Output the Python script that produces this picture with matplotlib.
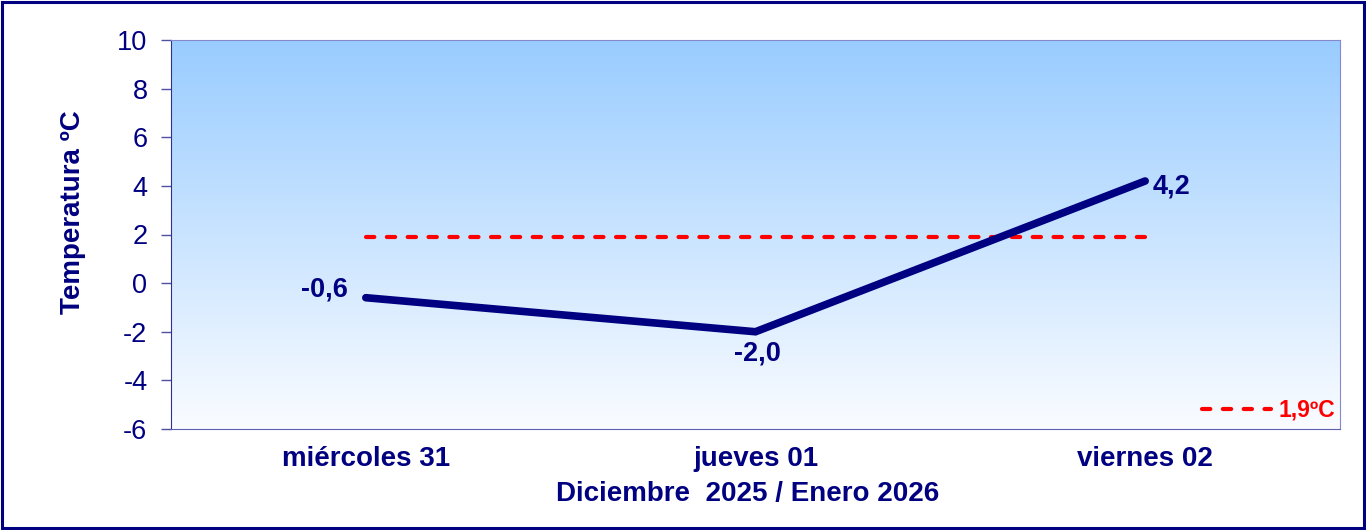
import numpy as np
import matplotlib.pyplot as plt
from matplotlib.patches import Rectangle

plt.rcParams['font.family'] = ['Liberation Sans', 'DejaVu Sans']

days = ["miércoles 31", "jueves 01", "viernes 02"]
temps = [-0.6, -2.0, 4.2]
temp_labels = ["-0,6", "-2,0", "4,2"]
avg_temp = 1.9
avg_label = "1,9ºC"
yticks = [-6, -4, -2, 0, 2, 4, 6, 8, 10]

navy = "#000080"

fig = plt.figure(figsize=(13.66, 5.30), dpi=100)
ax = fig.add_axes([171 / 1366, 1 - 429 / 530, (1340 - 171) / 1366, (429 - 40) / 530])

# gradient background of the plot area
grad = np.linspace(0, 1, 256).reshape(-1, 1)
top = np.array([0x99, 0xCC, 0xFF]) / 255
bot = np.array([0xFA, 0xFC, 0xFF]) / 255
img = top + (bot - top) * grad[:, :, None]
ax.imshow(img, extent=[0, 1, 0, 1], transform=ax.transAxes, aspect="auto", zorder=0)

x = np.arange(len(days))
ax.plot([x[0], x[-1]], [avg_temp, avg_temp], color="red", lw=3, ls=(0, (2, 3)),
        dash_capstyle="round", label=avg_label, zorder=2)
ax.plot(x, temps, color=navy, lw=5.5, solid_capstyle="round", solid_joinstyle="miter", zorder=3)

lbl = dict(textcoords="offset pixels", va="center", fontsize=19.5, fontweight="bold", color=navy)
ax.annotate(temp_labels[0], (x[0], temps[0]), xytext=(-18, 8), ha="right", **lbl)
ax.annotate(temp_labels[1], (x[1], temps[1]), xytext=(2, -22), ha="center", **lbl)
ax.annotate(temp_labels[2], (x[2], temps[2]), xytext=(7, -5), ha="left", **lbl)

ax.set_xlim(-0.5, 2.5)
ax.set_ylim(-6, 10)
ax.set_yticks(yticks)
ax.set_yticklabels([str(v) for v in yticks])
ax.set_xticks(x)
ax.set_xticklabels(days, fontsize=20, fontweight="bold", color=navy)
ax.tick_params(axis="x", length=0, pad=12)
ax.tick_params(axis="y", length=7, width=1, color="#5050A0", labelsize=19.5, labelcolor=navy, pad=10)

ax.set_xlabel("Diciembre  2025 / Enero 2026", fontsize=20, fontweight="bold", color=navy)
ax.xaxis.set_label_coords(0.4936, -0.134)
ax.set_ylabel("Temperatura ºC", fontsize=20, fontweight="bold", color=navy)
ax.yaxis.set_label_coords(-0.073, 0.557)

ax.spines["left"].set_color("#303090")
ax.spines["bottom"].set_color("#6060B0")
ax.spines["top"].set_color("#8888CC")
ax.spines["right"].set_color("#8888CC")

leg = ax.legend(loc="lower right", bbox_to_anchor=(1.004, -0.005), frameon=False, handlelength=3.0,
                handletextpad=0.35, borderaxespad=0, prop={"size": 16.5, "weight": "bold"})
for t in leg.get_texts():
    t.set_color("red")

fig.patches.append(Rectangle((2 / 1366, 2 / 530), 1 - 4 / 1366, 1 - 4 / 530, transform=fig.transFigure,
                             fill=False, edgecolor=navy, lw=2.2))

fig.savefig("out.png", dpi=100)
